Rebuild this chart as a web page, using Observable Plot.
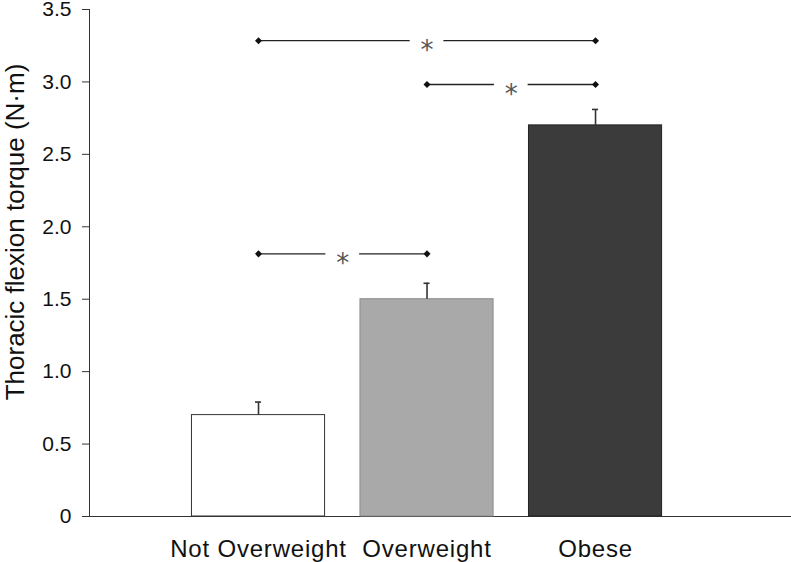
<!DOCTYPE html>
<html>
<head>
<meta charset="utf-8">
<script src="https://cdn.jsdelivr.net/npm/d3@7"></script>
<script src="https://cdn.jsdelivr.net/npm/@observablehq/plot@0.6"></script>
<style>
  html, body { margin: 0; padding: 0; background: #fff; }
  g[aria-label="x-axis"] text, g[aria-label="x-axis tick label"] text { font-size: 24px; letter-spacing: 0.8px; fill: #111; }
  g[aria-label="y-axis"] text, g[aria-label="y-axis tick label"] text { font-size: 21px; fill: #111; }
</style>
</head>
<body>
<div id="chart"></div>
<script>
// Data
const categories = ["Not Overweight", "Overweight", "Obese"];
const torque = [0.70, 1.50, 2.70];
const sem = [0.09, 0.11, 0.11];
const yTicks = [0, 0.5, 1.0, 1.5, 2.0, 2.5, 3.0, 3.5];
const yTitle = "Thoracic flexion torque (N·m)";
// significance brackets (category index from/to, height in N·m)
const sigFrom = [0, 1, 0];
const sigTo = [2, 2, 1];
const sigHeight = [3.285, 2.982, 1.813];
const sigLabel = ["*", "*", "*"];

// Styles
const barFill = ["#ffffff", "#a9a9a9", "#3b3b3b"];
const barStroke = ["#333333", "#8c8c8c", "#222222"];
const halfBar = 0.395;   // half bar width in category units
const capHalf = 0.018;   // error cap half width
const gapHalf = 0.1;     // gap around asterisk

const bars = categories.map((c, i) => ({i, c, v: torque[i], e: sem[i]}));
const brackets = sigFrom.map((f, k) => ({from: f, to: sigTo[k], y: sigHeight[k], mid: (f + sigTo[k]) / 2, label: sigLabel[k]}));
const segments = brackets.flatMap(b => [
  {x1: b.from, x2: b.mid - gapHalf, y: b.y},
  {x1: b.mid + gapHalf, x2: b.to, y: b.y}
]);
const ends = brackets.flatMap(b => [{x: b.from, y: b.y}, {x: b.to, y: b.y}]);

const chart = Plot.plot({
  width: 791,
  height: 562,
  marginLeft: 89,
  marginRight: 1,
  marginTop: 9,
  marginBottom: 46,
  style: {fontFamily: "'Liberation Sans', Arial, sans-serif", color: "#333", background: "#fff"},
  x: {
    domain: [-1.003, 3.157],
    ticks: [0, 1, 2],
    tickFormat: i => categories[i],
    tickSize: 0,
    tickPadding: 23,
    line: true,
    label: null
  },
  y: {
    domain: [0, 3.5],
    ticks: yTicks,
    tickFormat: d => d === 0 ? "0" : d.toFixed(1),
    tickSize: 7,
    tickPadding: 11,
    line: true,
    label: null
  },
  marks: [
    Plot.rectY(bars, {
      x1: d => d.i - halfBar, x2: d => d.i + halfBar, y1: 0, y2: "v",
      fill: d => barFill[d.i], stroke: d => barStroke[d.i], strokeWidth: 1
    }),
    Plot.ruleX(bars, {x: "i", y1: "v", y2: d => d.v + d.e, stroke: "#333", strokeWidth: 1.6}),
    Plot.ruleY(bars, {y: d => d.v + d.e, x1: d => d.i - capHalf, x2: d => d.i + capHalf, stroke: "#333", strokeWidth: 1.6}),
    Plot.ruleY(segments, {y: "y", x1: "x1", x2: "x2", stroke: "#222", strokeWidth: 1.4}),
    Plot.dot(ends, {x: "x", y: "y", symbol: "square", r: 2.8, rotate: 45, fill: "#111", stroke: "none"}),
    Plot.text(brackets, {x: "mid", y: "y", text: "label", fontSize: 26, fill: "#555", lineAnchor: "top", fontFamily: "'DejaVu Sans', sans-serif"}),
    Plot.text([yTitle], {text: d => d, frameAnchor: "left", textAnchor: "middle", lineAnchor: "middle", rotate: -90, dx: -74, dy: -31, fontSize: 26, fill: "#111"})
  ]
});
document.getElementById("chart").appendChild(chart);
</script>
</body>
</html>
